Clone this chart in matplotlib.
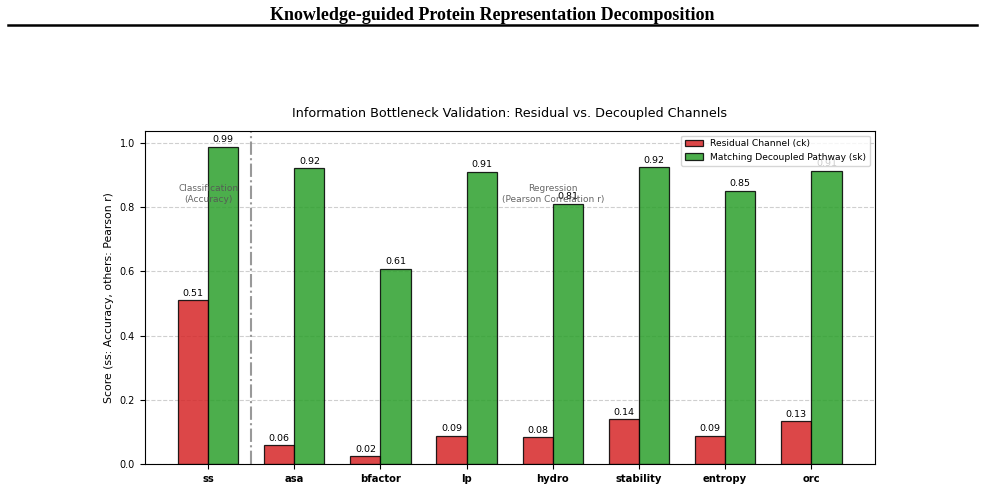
import numpy as np
import matplotlib.pyplot as plt

# data
tasks = ['ss', 'asa', 'bfactor', 'lp', 'hydro', 'stability', 'entropy', 'orc']
residual = [0.51, 0.058, 0.024, 0.088, 0.084, 0.139, 0.088, 0.133]
decoupled = [0.987, 0.920, 0.607, 0.910, 0.810, 0.924, 0.850, 0.912]

fig = plt.figure(figsize=(9.85, 4.87), dpi=100)

# header with rule
fig.text(0.5, 0.969, 'Knowledge-guided Protein Representation Decomposition',
         ha='center', va='center', fontsize=13, fontweight='bold',
         family=['Liberation Serif', 'DejaVu Serif'])
fig.add_artist(plt.Line2D([0.008, 0.992], [0.948, 0.948], color='black', lw=1.8))

ax = fig.add_axes([0.147, 0.047, 0.741, 0.684])

x = np.arange(len(tasks))
w = 0.35
b1 = ax.bar(x - w / 2, residual, w, color='#d62728', alpha=0.85, edgecolor='black',
            linewidth=0.9, label='Residual Channel (ck)')
b2 = ax.bar(x + w / 2, decoupled, w, color='#2ca02c', alpha=0.85, edgecolor='black',
            linewidth=0.9, label='Matching Decoupled Pathway (sk)')

for bars in (b1, b2):
    for b in bars:
        h = b.get_height()
        ax.text(b.get_x() + b.get_width() / 2, h + 0.008, f'{h:.2f}',
                ha='center', va='bottom', fontsize=6.8)

ax.axvline(0.5, color='gray', linestyle='-.', linewidth=1.5, alpha=0.8)
ax.text(0, 0.84, 'Classification\n(Accuracy)', ha='center', va='center',
        fontsize=6.5, color='#555555', alpha=0.9)
ax.text(4, 0.84, 'Regression\n(Pearson Correlation r)', ha='center', va='center',
        fontsize=6.5, color='#555555', alpha=0.9)

ax.set_xticks(x)
ax.set_xticklabels(tasks, fontsize=7.2, fontweight='bold')
ax.tick_params(axis='y', labelsize=7)
ax.set_ylabel('Score (ss: Accuracy, others: Pearson r)', fontsize=7.8)
ax.set_title('Information Bottleneck Validation: Residual vs. Decoupled Channels',
             fontsize=9.2, pad=10)
ax.grid(axis='y', linestyle='--', alpha=0.6)
ax.set_axisbelow(True)
ax.legend(loc='upper right', fontsize=6.6)

fig.savefig('out.png', dpi=100)
